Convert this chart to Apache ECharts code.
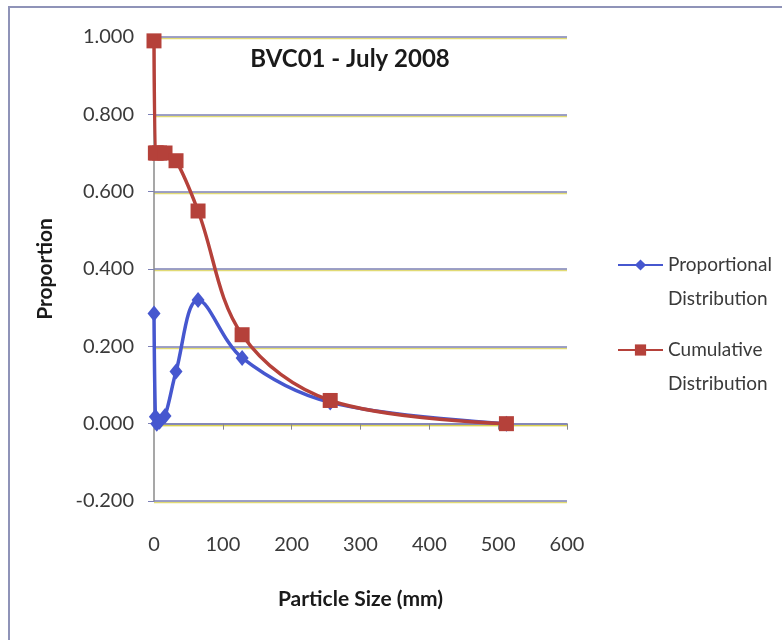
<!DOCTYPE html>
<html>
<head>
<meta charset="utf-8">
<script src="https://cdn.jsdelivr.net/npm/echarts@6/dist/echarts.min.js"></script>
<style>
  html, body { margin: 0; padding: 0; background: #ffffff; }
  #chart { width: 782px; height: 640px; }
</style>
</head>
<body>
<div id="chart"></div>
<script>
// Sieve classes (mm) and the measured distributions for each class
const particleSize = [0, 2, 4, 8, 16, 32, 64, 128, 256, 512];
const proportional = [0.285, 0.018, 0.0, 0.005, 0.02, 0.135, 0.32, 0.17, 0.055, 0.0];
const cumulative   = [0.99, 0.70, 0.70, 0.70, 0.70, 0.68, 0.55, 0.23, 0.06, 0.0];

const seriesNames = ['Proportional\nDistribution', 'Cumulative\nDistribution'];
const chartTitle = 'BVC01 - July 2008';
const xAxisTitle = 'Particle Size (mm)';
const yAxisTitle = 'Proportion';

// Axis ranges and tick steps
const xRange = { min: 0, max: 600, step: 100 };
const yRange = { min: -0.2, max: 1.0, step: 0.2 };

const FONT = 'Lato, "Open Sans", sans-serif';
const BLUE = '#4657cf';
const RED = '#b5413a';
const GRID = '#7c80b6';
const TEXT = '#3a3a3a';

const gridLine = {
  color: GRID, width: 1.5,
  shadowColor: 'rgba(215,205,70,0.75)', shadowOffsetY: 1.5, shadowBlur: 0
};

const pairs = (xs, ys) => xs.map((x, i) => [x, ys[i]]);

const chart = echarts.init(document.getElementById('chart'), null, { renderer: 'canvas' });

chart.setOption({
  backgroundColor: '#ffffff',
  animation: false,
  textStyle: { fontFamily: FONT },
  title: {
    text: chartTitle,
    left: 345, top: 42, textAlign: 'center',
    textStyle: { fontFamily: FONT, fontSize: 24, fontWeight: 'bold', color: '#1a1a1a' }
  },
  graphic: [{
    type: 'rect',
    shape: { x: 9, y: 7, width: 800, height: 700 },
    style: { fill: 'none', stroke: '#8f93b8', lineWidth: 2 },
    silent: true, z: -1
  }],
  grid: { left: 154, right: 215, top: 37, bottom: 139, containLabel: false },
  legend: {
    orient: 'vertical',
    left: 617, top: 214,
    padding: 0,
    itemWidth: 45, itemHeight: 14, itemGap: -17,
    // a leading blank line keeps the icon beside the first line of each name
    formatter: name => ' \n' + name,
    textStyle: { fontFamily: FONT, fontSize: 19, color: TEXT, lineHeight: 34 },
    data: seriesNames
  },
  xAxis: [{
    type: 'value',
    min: xRange.min, max: xRange.max, interval: xRange.step,
    position: 'bottom',
    axisLine: { show: false, onZero: false },
    axisTick: { show: false },
    splitLine: { show: false },
    axisLabel: { fontFamily: FONT, fontSize: 20, color: TEXT, margin: 34 },
    name: xAxisTitle, nameLocation: 'middle', nameGap: 88,
    nameTextStyle: { fontFamily: FONT, fontSize: 21, fontWeight: 'bold', color: '#1a1a1a' }
  }, {
    // the zero line carrying the tick marks
    type: 'value',
    min: xRange.min, max: xRange.max, interval: xRange.step,
    position: 'top',
    axisLine: { show: true, onZero: true, lineStyle: gridLine },
    axisTick: { show: true, inside: true, length: 6, lineStyle: { color: '#888888' } },
    axisLabel: { show: false },
    splitLine: { show: false }
  }],
  yAxis: {
    type: 'value',
    min: yRange.min, max: yRange.max, interval: yRange.step,
    axisLine: { show: true, onZero: false, lineStyle: { color: '#8a8a8a', width: 1.5 } },
    axisTick: { show: true, length: 6, lineStyle: { color: GRID } },
    splitLine: { show: true, lineStyle: gridLine },
    axisLabel: {
      fontFamily: FONT, fontSize: 20, color: TEXT, margin: 20,
      formatter: v => v.toFixed(3)
    },
    name: yAxisTitle, nameLocation: 'middle', nameGap: 98, nameRotate: 90,
    nameTextStyle: { fontFamily: FONT, fontSize: 21, fontWeight: 'bold', color: '#1a1a1a' }
  },
  series: [{
    name: seriesNames[0],
    type: 'line',
    xAxisIndex: 0,
    data: pairs(particleSize, proportional),
    smooth: 0.35,
    symbol: 'diamond', symbolSize: [13, 16],
    itemStyle: { color: BLUE },
    lineStyle: { color: BLUE, width: 3.5 },
    z: 3
  }, {
    name: seriesNames[1],
    type: 'line',
    xAxisIndex: 0,
    data: pairs(particleSize, cumulative),
    smooth: 0.35,
    symbol: 'rect', symbolSize: 15,
    itemStyle: { color: RED },
    lineStyle: { color: RED, width: 3.5 },
    z: 4
  }]
});
</script>
</body>
</html>
